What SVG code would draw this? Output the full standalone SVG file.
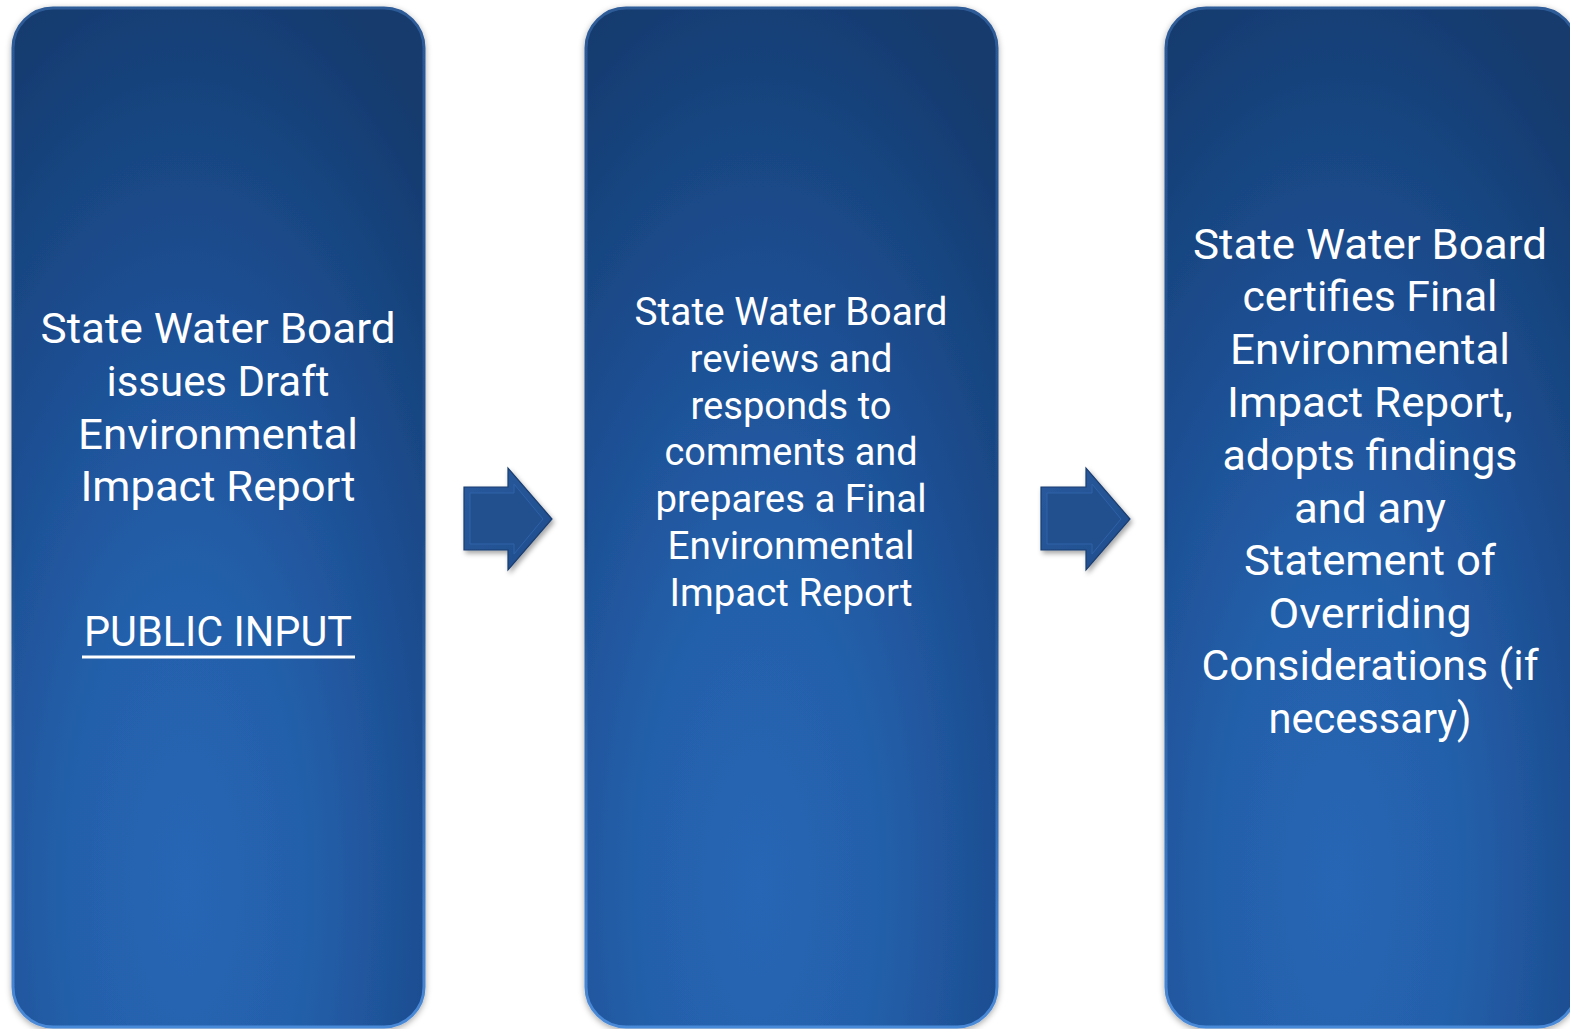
<svg xmlns="http://www.w3.org/2000/svg" width="1570" height="1029" viewBox="0 0 1570 1029">
  <defs>
    <radialGradient id="boxFill" cx="0.42" cy="0.86" r="0.95" fx="0.42" fy="0.86">
      <stop offset="0" stop-color="#2666b4"/>
      <stop offset="0.3" stop-color="#2460ab"/>
      <stop offset="0.6" stop-color="#1d4f93"/>
      <stop offset="1" stop-color="#133a6c"/>
    </radialGradient>
    <linearGradient id="rimStroke" x1="0" y1="0" x2="0" y2="1">
      <stop offset="0" stop-color="#2e5b98"/>
      <stop offset="0.5" stop-color="#1d4b88"/>
      <stop offset="1" stop-color="#4a8ad8"/>
    </linearGradient>
    <linearGradient id="arrowFill" x1="0" y1="0" x2="1" y2="1">
      <stop offset="0" stop-color="#2a5a9e"/>
      <stop offset="1" stop-color="#204d8c"/>
    </linearGradient>
    <filter id="shadow" x="-10%" y="-5%" width="120%" height="110%">
      <feDropShadow dx="0" dy="2" stdDeviation="3" flood-color="#000" flood-opacity="0.35"/>
    </filter>
    <filter id="ashadow" x="-20%" y="-20%" width="140%" height="140%">
      <feDropShadow dx="2" dy="3" stdDeviation="2.5" flood-color="#000" flood-opacity="0.35"/>
    </filter>
  </defs>
  <style>
    .box { fill: url(#boxFill); stroke: url(#rimStroke); stroke-width: 3; filter: url(#shadow); }
    .lbl { font-family: Roboto, "Liberation Sans", sans-serif; fill: #ffffff; text-anchor: middle; }
    .big { font-size: 43px; }
    .mid { font-size: 38px; }
    .arrow { fill: url(#arrowFill); stroke: #1a3d70; stroke-width: 1.2; filter: url(#ashadow); }
    .arrowFace { fill: #22508f; stroke: #2f62a8; stroke-width: 1; }
  </style>
  <rect width="1570" height="1029" fill="#ffffff"/>

  <g id="node-draft">
    <rect class="box" x="13" y="8" width="411" height="1019" rx="40" ry="40"/>
    <text class="lbl big" x="218" y="343" textLength="355" lengthAdjust="spacingAndGlyphs">State Water Board</text>
    <text class="lbl big" x="218" y="396" textLength="223" lengthAdjust="spacingAndGlyphs">issues Draft</text>
    <text class="lbl big" x="218" y="449" textLength="280" lengthAdjust="spacingAndGlyphs">Environmental</text>
    <text class="lbl big" x="218" y="501" textLength="275" lengthAdjust="spacingAndGlyphs">Impact Report</text>
    <text class="lbl big" x="218" y="646" textLength="268" lengthAdjust="spacingAndGlyphs">PUBLIC INPUT</text>
    <line x1="82" y1="657" x2="355" y2="657" stroke="#ffffff" stroke-width="3"/>
  </g>

  <g id="node-final">
    <rect class="box" x="586" y="8" width="411" height="1019" rx="40" ry="40"/>
    <text class="lbl mid" x="791" y="325" textLength="313" lengthAdjust="spacingAndGlyphs">State Water Board</text>
    <text class="lbl mid" x="791" y="372" textLength="203" lengthAdjust="spacingAndGlyphs">reviews and</text>
    <text class="lbl mid" x="791" y="419" textLength="201" lengthAdjust="spacingAndGlyphs">responds to</text>
    <text class="lbl mid" x="791" y="465" textLength="253" lengthAdjust="spacingAndGlyphs">comments and</text>
    <text class="lbl mid" x="791" y="512" textLength="271" lengthAdjust="spacingAndGlyphs">prepares a Final</text>
    <text class="lbl mid" x="791" y="559" textLength="247" lengthAdjust="spacingAndGlyphs">Environmental</text>
    <text class="lbl mid" x="791" y="606" textLength="243" lengthAdjust="spacingAndGlyphs">Impact Report</text>
  </g>

  <g id="node-certify">
    <rect class="box" x="1166" y="8" width="411" height="1019" rx="40" ry="40"/>
    <text class="lbl big" x="1370" y="259" textLength="354" lengthAdjust="spacingAndGlyphs">State Water Board</text>
    <text class="lbl big" x="1370" y="311" textLength="255" lengthAdjust="spacingAndGlyphs">certifies Final</text>
    <text class="lbl big" x="1370" y="364" textLength="280" lengthAdjust="spacingAndGlyphs">Environmental</text>
    <text class="lbl big" x="1370" y="417" textLength="286" lengthAdjust="spacingAndGlyphs">Impact Report,</text>
    <text class="lbl big" x="1370" y="470" textLength="295" lengthAdjust="spacingAndGlyphs">adopts findings</text>
    <text class="lbl big" x="1370" y="523" textLength="152" lengthAdjust="spacingAndGlyphs">and any</text>
    <text class="lbl big" x="1370" y="575" textLength="252" lengthAdjust="spacingAndGlyphs">Statement of</text>
    <text class="lbl big" x="1370" y="628" textLength="203" lengthAdjust="spacingAndGlyphs">Overriding</text>
    <text class="lbl big" x="1370" y="680" textLength="337" lengthAdjust="spacingAndGlyphs">Considerations (if</text>
    <text class="lbl big" x="1370" y="733" textLength="203" lengthAdjust="spacingAndGlyphs">necessary)</text>
  </g>

  <g id="connectors">
    <g id="arrow-1">
      <polygon class="arrow" points="464,487 508,487 508,468 552,519 508,570 508,550 464,550"/>
      <polygon class="arrowFace" points="470,493 514,493 514,484 543,519 514,554 514,544 470,544"/>
    </g>
    <g id="arrow-2">
      <polygon class="arrow" points="1041,487 1086,487 1086,468 1130,519 1086,570 1086,550 1041,550"/>
      <polygon class="arrowFace" points="1047,493 1092,493 1092,484 1121,519 1092,554 1092,544 1047,544"/>
    </g>
  </g>
</svg>
